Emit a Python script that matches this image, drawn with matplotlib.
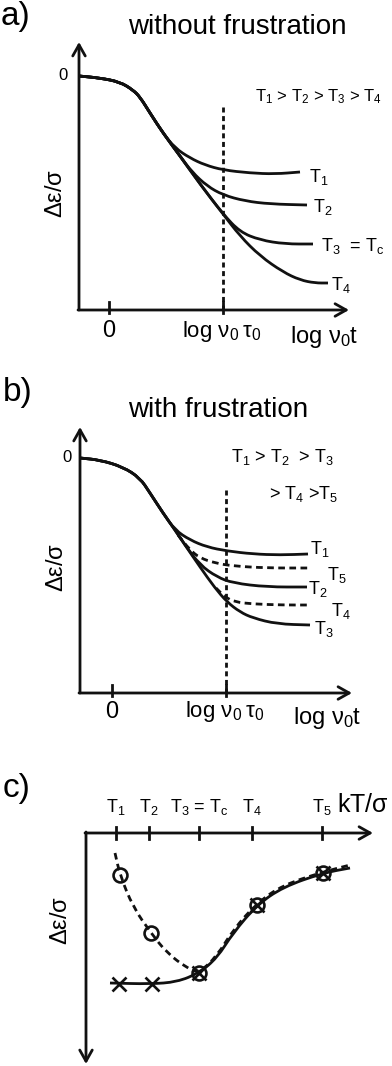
import numpy as np
import matplotlib
matplotlib.use('Agg')
import matplotlib.pyplot as plt
from matplotlib.path import Path
from matplotlib.patches import PathPatch

plt.rcParams['font.family'] = ['Liberation Sans', 'DejaVu Sans']
plt.rcParams['mathtext.default'] = 'regular'

# ---- panel a: relaxation curves (pixel coords) ----
a_common_x = [79, 100, 120, 133, 140, 150, 163]
a_common_y = [76, 78, 82, 90, 97, 113, 133]
a_T1_x = [175, 190, 205, 223, 250, 275, 300]
a_T1_y = [148, 158, 165, 170, 173, 174, 172]
a_T2_x = [180, 192, 207, 223, 245, 270, 307]
a_T2_y = [156, 172, 186, 195, 201, 204, 205]
a_T3_x = [180, 200, 223, 240, 260, 285, 313]
a_T3_y = [156, 184, 214, 232, 240, 244, 244]
a_T4_x = [180, 200, 223, 240, 260, 283, 300, 315, 328]
a_T4_y = [156, 184, 214, 236, 256, 272, 280, 283, 283]

# ---- panel b ----
b_common_x = [80, 100, 123, 140, 150, 163, 175]
b_common_y = [458, 460, 467, 478, 493, 513, 530]
b_T1_x = [190, 207, 227, 253, 280, 308]
b_T1_y = [540, 547, 551, 554, 555, 554]
b_T2_x = [185, 200, 217, 233, 267, 307]
b_T2_y = [545, 565, 577, 583, 587, 587]
b_T3_x = [185, 200, 215, 227, 240, 253, 277, 310]
b_T3_y = [545, 567, 588, 602, 612, 618, 624, 625]
b_T5_x = [178, 190, 200, 215, 233, 267, 308]
b_T5_y = [535, 550, 558, 563, 566, 568, 568]
b_T4_x = [216, 225, 235, 253, 283, 308]
b_T4_y = [588, 597, 602, 604, 605, 605]

# ---- panel c ----
c_tick_x = [116, 149, 199, 252, 322]
c_tick_labels = ['T$_1$', 'T$_2$', 'T$_3$ = T$_c$', 'T$_4$', 'T$_5$']
c_circle_x = [120, 151, 199, 257, 323]
c_circle_y = [875, 933, 973, 905, 873]
c_cross_x = [119, 152, 199, 257, 323]
c_cross_y = [984, 984, 973, 905, 873]
c_solid_x = [110, 150, 177, 199, 217, 233, 257, 283, 323, 350]
c_solid_y = [983, 984, 982, 973, 958, 933, 905, 887, 873, 868]
c_dash_x = [115, 120, 133, 151, 167, 187, 199, 217, 233, 257, 283, 323, 350]
c_dash_y = [853, 875, 907, 933, 953, 968, 973, 956, 930, 903, 885, 872, 865]

INK = '#111111'
LW = 2.0
DASH = (0, (1.8, 1.3))
CDASH = (0, (2.4, 1.6))


def smooth(ax, xs, ys, ls='-', lw=LW):
    # quadratic bezier through midpoints
    pts = list(zip(xs, ys))
    verts = [pts[0], ((pts[0][0] + pts[1][0]) / 2, (pts[0][1] + pts[1][1]) / 2)]
    codes = [Path.MOVETO, Path.LINETO]
    for i in range(1, len(pts) - 1):
        mid = ((pts[i][0] + pts[i + 1][0]) / 2, (pts[i][1] + pts[i + 1][1]) / 2)
        verts += [pts[i], mid]
        codes += [Path.CURVE3, Path.CURVE3]
    verts.append(pts[-1])
    codes.append(Path.LINETO)
    ax.add_patch(PathPatch(Path(verts, codes), fill=False, lw=lw, ls=ls,
                           edgecolor=INK, capstyle='butt'))


def arrow(ax, x0, y0, x1, y1):
    ax.annotate('', xy=(x1, y1), xytext=(x0, y0),
                arrowprops=dict(arrowstyle='->,head_length=0.8,head_width=0.45',
                                lw=LW, color=INK, shrinkA=0, shrinkB=0))


def time_panel(ax, x0, ytop, ybot, xend, ticks, dash_top, label_y):
    arrow(ax, x0, ybot, x0, ytop)
    arrow(ax, x0 - 1, ybot, xend, ybot)
    for tx in ticks:
        ax.plot([tx, tx], [ybot - 8, ybot + 3], color=INK, lw=LW)
    ax.plot([ticks[1], ticks[1]], [dash_top, ybot], color=INK, lw=LW, ls=DASH)
    ax.text(ticks[0], label_y, '0', fontsize=17, ha='center', va='center')
    ax.text(ticks[1] - 1, label_y, r'log $\nu_0\,\tau_0$', fontsize=16, ha='center', va='center')
    ax.text(xend - 25, label_y + 6, r'log $\nu_0$t', fontsize=17, ha='center', va='center')


fig = plt.figure(figsize=(3.92, 10.66), dpi=100)
ax = fig.add_axes([0, 0, 1, 1])
ax.set_xlim(0, 392)
ax.set_ylim(1066, 0)
ax.axis('off')

# ---------------- a) ----------------
ax.text(1, 17, 'a)', fontsize=24, ha='left', va='center')
ax.text(237, 27, 'without frustration', fontsize=20, ha='center', va='center')
time_panel(ax, 79, 42, 310, 349, [109, 223], 107, 331)
ax.text(63, 75, '0', fontsize=12, ha='center', va='center')
ax.text(56, 193, r'$\Delta\varepsilon/\sigma$', fontsize=17, rotation=90, ha='center', va='center')
ax.text(255, 97, 'T$_1$ > T$_2$ > T$_3$ > T$_4$', fontsize=12, ha='left', va='center')
for bx, by in [(a_T1_x, a_T1_y), (a_T2_x, a_T2_y), (a_T3_x, a_T3_y), (a_T4_x, a_T4_y)]:
    smooth(ax, a_common_x + bx, a_common_y + by)
ax.text(309, 177, 'T$_1$', fontsize=13, ha='left', va='center')
ax.text(313, 207, 'T$_2$', fontsize=13, ha='left', va='center')
ax.text(321, 246, 'T$_3$  = T$_c$', fontsize=13, ha='left', va='center')
ax.text(331, 285, 'T$_4$', fontsize=13, ha='left', va='center')

# ---------------- b) ----------------
ax.text(3, 393, 'b)', fontsize=24, ha='left', va='center')
ax.text(218, 410, 'with frustration', fontsize=20, ha='center', va='center')
time_panel(ax, 80, 427, 693, 352, [112, 226], 490, 712)
ax.text(67, 457, '0', fontsize=12, ha='center', va='center')
ax.text(57, 567, r'$\Delta\varepsilon/\sigma$', fontsize=17, rotation=90, ha='center', va='center')
ax.text(231, 457, 'T$_1$ > T$_2$  > T$_3$', fontsize=13, ha='left', va='center')
ax.text(269, 494, '> T$_4$ >T$_5$', fontsize=13, ha='left', va='center')
for bx, by in [(b_T1_x, b_T1_y), (b_T2_x, b_T2_y), (b_T3_x, b_T3_y)]:
    smooth(ax, b_common_x + bx, b_common_y + by)
smooth(ax, b_T5_x, b_T5_y, ls=CDASH)
smooth(ax, b_T4_x, b_T4_y, ls=CDASH)
ax.text(310, 549, 'T$_1$', fontsize=13, ha='left', va='center')
ax.text(327, 575, 'T$_5$', fontsize=13, ha='left', va='center')
ax.text(308, 589, 'T$_2$', fontsize=13, ha='left', va='center')
ax.text(331, 611, 'T$_4$', fontsize=13, ha='left', va='center')
ax.text(314, 629, 'T$_3$', fontsize=13, ha='left', va='center')

# ---------------- c) ----------------
ax.text(3, 788, 'c)', fontsize=24, ha='left', va='center')
arrow(ax, 85, 833, 373, 833)
arrow(ax, 86, 832, 86, 1064)
for tx, lab in zip(c_tick_x, c_tick_labels):
    ax.plot([tx, tx], [827, 839], color=INK, lw=LW)
    ax.text(tx, 807, lab, fontsize=13, ha='center', va='center')
ax.text(363, 805, r'kT/$\sigma$', fontsize=18, ha='center', va='center')
ax.text(61, 920, r'$\Delta\varepsilon/\sigma$', fontsize=17, rotation=90, ha='center', va='center')
smooth(ax, c_solid_x, c_solid_y)
smooth(ax, c_dash_x, c_dash_y, ls=CDASH)
ax.plot(c_circle_x, c_circle_y, ls='none', marker='o', ms=10, mfc='none',
        mec=INK, mew=1.9)
ax.plot(c_cross_x, c_cross_y, ls='none', marker='x', ms=10, mec=INK, mew=1.9)

fig.savefig('out.png', dpi=100)
